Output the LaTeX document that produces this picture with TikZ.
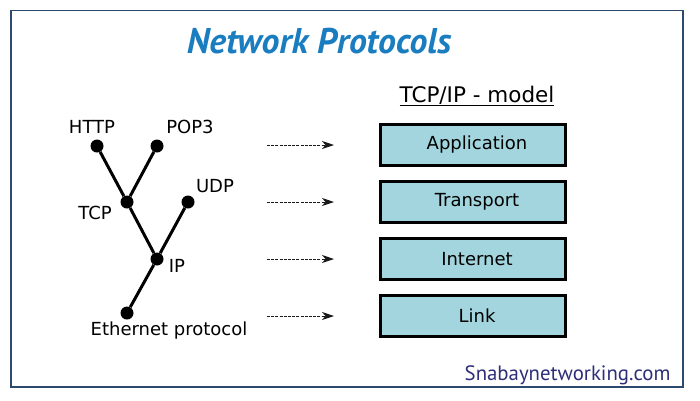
\documentclass[tikz,border=0pt]{standalone}
\usepackage{fontspec}
\setmainfont{DejaVu Sans}
\newfontfamily\titlefont{PT Sans}
\newfontfamily\sitefont{PT Sans}
\usetikzlibrary{arrows.meta,positioning}
\definecolor{frame}{HTML}{2B4A6E}
\definecolor{heading}{HTML}{1A7DC0}
\definecolor{layer}{HTML}{A2D5DD}
\definecolor{site}{HTML}{2E2F78}
\tikzset{
  every node/.style={font=\fontsize{18}{21}\selectfont,text=black},
  dot/.style={circle,fill=black,inner sep=0pt,minimum size=13pt},
  branch/.style={line width=3pt,draw=black},
  proto/.style={inner sep=1pt},
  layerbox/.style={draw=black,line width=3pt,fill=layer,minimum width=185pt,minimum height=41pt,inner sep=0pt},
  maparr/.style={-{Stealth[length=12pt,width=8pt,inset=3.5pt]},dash pattern=on 3pt off 1.2pt,line width=1pt,draw=black!90},
}
\begin{document}
\begin{tikzpicture}[x=1pt,y=-1pt]
\useasboundingbox (0,0) rectangle (700,400);
\fill[white] (0,0) rectangle (700,400);
\draw[frame,line width=1.3pt] (11,10.5) rectangle (683,387);

% Title
\node[font=\titlefont\bfseries\itshape\fontsize{35.7}{38}\selectfont,text=heading] (title) at (319,41) {Network Protocols};

% Protocol tree
\node[dot] (http) at (97,146) {};
\node[dot] (pop) at (157,146) {};
\node[dot] (tcp) at (127,202) {};
\node[dot] (udp) at (188,202) {};
\node[dot] (ip) at (157,259) {};
\node[dot] (eth) at (127,313) {};
\draw[branch] (http) -- (tcp) -- (ip) -- (eth);
\draw[branch] (pop) -- (tcp);
\draw[branch] (udp) -- (ip);
\node[proto] (httplbl) at (92,127) {HTTP};
\node[proto] (poplbl) at (190,127) {POP3};
\node[proto] (udplbl) at (215,186) {UDP};
\node[proto] (tcplbl) at (95,213) {TCP};
\node[proto] (iplbl) at (177,266) {IP};
\node[proto] (ethlbl) at (169,331) {Ethernet protocol};

% TCP/IP model
\node[font=\fontsize{21.5}{24}\selectfont] (model) at (477,96) {\underline{TCP/IP - model}};
\node[layerbox] (app) at (473,145) {\hspace*{8pt}Application};
\node[layerbox,below=13pt of app] (trans) {\hspace*{8pt}Transport};
\node[layerbox,below=13pt of trans] (inet) {\hspace*{8pt}Internet};
\node[layerbox,below=13pt of inet] (link) {\hspace*{8pt}Link};

\foreach \l in {app,trans,inet,link} {\draw[maparr] ([xshift=-112pt]\l.west) -- ([xshift=-45pt]\l.west);}

% Footer
\node[font=\sitefont\fontsize{20.8}{23}\selectfont,text=site,anchor=east] (web) at (674,375) {Snabaynetworking.com};
\end{tikzpicture}
\end{document}
